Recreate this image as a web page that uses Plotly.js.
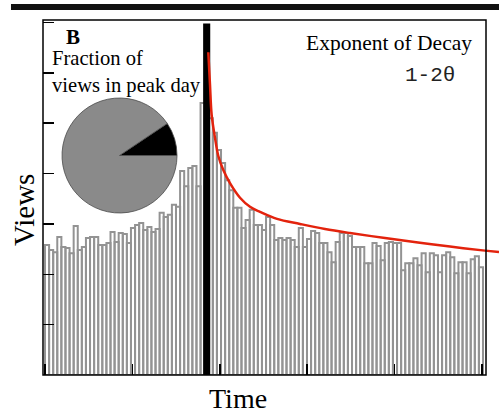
<!DOCTYPE html>
<html>
<head>
<meta charset="utf-8">
<script src="https://cdn.plot.ly/plotly-3.0.1.min.js"></script>
<style>
html,body{margin:0;padding:0;background:#fff;}
#chart{width:499px;height:413px;}
</style>
</head>
<body>
<div id="chart"></div>
<script>
// ---- data ----
const viewsBeforePeak = [2.58, 2.48, 2.44, 2.74, 2.54, 2.52, 2.42, 2.96, 2.48, 2.54,
  2.72, 2.74, 2.74, 2.58, 2.58, 2.62, 2.84, 2.64, 2.82, 2.80,
  2.62, 2.92, 2.98, 3.02, 2.88, 2.94, 2.84, 2.90, 3.22, 3.14,
  3.18, 3.38, 3.34, 4.05, 3.75, 4.11, 4.15, 3.75, 5.40];
const peakDayViews = 6.95;
const viewsAfterPeak = [5.10, 4.81, 4.47, 4.21, 3.87, 3.67, 3.32, 3.32, 2.92, 3.08,
  3.28, 2.98, 2.98, 2.88, 3.14, 2.98, 2.68, 2.72, 2.68, 2.72,
  2.68, 2.54, 2.92, 2.54, 2.70, 2.86, 2.82, 2.62, 2.62, 2.44,
  2.24, 2.64, 2.82, 2.82, 2.76, 2.54, 2.54, 2.54, 2.22, 2.22,
  2.62, 2.56, 2.28, 2.62, 2.64, 2.62, 2.62, 2.08, 2.22, 2.22,
  2.32, 2.18, 2.42, 2.04, 2.42, 2.38, 2.04, 2.38, 2.44, 2.34,
  2.02, 2.24, 2.24, 2.02, 2.30, 2.36, 2.14];
const decayTime = [39.39, 39.81, 40.22, 41.03, 41.84, 43.06, 44.69, 47.14, 49.58, 52.02,
  56.18, 61.79, 67.90, 74.01, 82.56, 90.62, 98.44, 106.99, 110.41];
const decayViews = [6.41, 5.76, 5.16, 4.71, 4.35, 4.07, 3.81, 3.52, 3.34, 3.24,
  3.10, 3.00, 2.90, 2.82, 2.72, 2.63, 2.55, 2.47, 2.44];
const pieLabels = ['peak day', 'other days'];
const pieFractions = [0.094, 0.906];

// ---- build traces ----
const peakIndex = viewsBeforePeak.length;
const allViews = viewsBeforePeak.concat([0], viewsAfterPeak);
const dayIndex = allViews.map((_, i) => i);
const otherX = dayIndex.filter(i => i !== peakIndex);
const otherY = otherX.map(i => allViews[i]);

const bars = {
  type: 'bar', x: otherX, y: otherY, width: 1,
  marker: {color: 'rgba(255,255,255,0)', line: {color: '#939393', width: 2}},
  hoverinfo: 'none', showlegend: false
};
const peakBar = {
  type: 'bar', x: [peakIndex], y: [peakDayViews], width: 1,
  marker: {color: '#000', line: {color: '#000', width: 3}},
  hoverinfo: 'none', showlegend: false
};
const decay = {
  type: 'scatter', mode: 'lines', x: decayTime, y: decayViews,
  line: {color: '#e3230d', width: 2.5, shape: 'spline', smoothing: 1},
  hoverinfo: 'none', showlegend: false, cliponaxis: false
};
// in plotly, the first slice (counterclockwise) spans clockwise from `rotation`
const pie = {
  type: 'pie', labels: pieLabels, values: pieFractions, sort: false,
  direction: 'counterclockwise', rotation: 90 - pieFractions[0] * 360,
  marker: {colors: ['#000000', '#8a8a8a'], line: {color: '#4a4a4a', width: 0.8}},
  textinfo: 'none', hoverinfo: 'none', showlegend: false,
  domain: {x: [0.0417, 0.2939], y: [0.4563, 0.7803]}
};

const serif = '"Liberation Serif", "Times New Roman", serif';
const layout = {
  width: 499, height: 413,
  margin: {l: 43, r: 0, t: 20, b: 38, pad: 0},
  paper_bgcolor: '#fff', plot_bgcolor: '#fff',
  barmode: 'overlay', bargap: 0, showlegend: false,
  xaxis: {range: [-0.989, 110.41], tick0: -0.5, dtick: 21.35, ticks: 'inside', ticklen: 11,
    tickwidth: 1.5, tickcolor: '#000', showticklabels: false, showgrid: false,
    zeroline: false, showline: false, fixedrange: true},
  yaxis: {range: [0, 7.05], tick0: 0, dtick: 1, ticks: 'inside', ticklen: 11,
    tickwidth: 1.5, tickcolor: '#000', showticklabels: false, showgrid: false,
    zeroline: false, showline: false, fixedrange: true},
  shapes: [
    {type: 'rect', xref: 'paper', yref: 'paper', x0: 0, x1: 0.9715, y0: 0, y1: 1,
      line: {color: '#000', width: 1.5}, fillcolor: 'rgba(0,0,0,0)', layer: 'above'},
    {type: 'rect', xref: 'paper', yref: 'paper', x0: -0.0702, x1: 1.0, y0: 1.0282, y1: 1.0451,
      line: {width: 0}, fillcolor: '#111', layer: 'above'}
  ],
  annotations: [
    {text: '<b>B</b>', xref: 'paper', yref: 'paper', x: 0.0460, y: 0.953, xanchor: 'left', yanchor: 'middle',
      showarrow: false, font: {family: serif, size: 21, color: '#000'}},
    {text: 'Fraction of<br>views in peak day', xref: 'paper', yref: 'paper', x: 0.0154, y: 0.930,
      xanchor: 'left', yanchor: 'top', align: 'left', showarrow: false,
      font: {family: serif, size: 20.6, color: '#000'}},
    {text: 'Exponent of Decay', xref: 'paper', yref: 'paper', x: 0.945, y: 0.935,
      xanchor: 'right', yanchor: 'middle', showarrow: false,
      font: {family: serif, size: 21.5, color: '#000'}},
    {text: '1-2θ', xref: 'paper', yref: 'paper', x: 0.8476, y: 0.845,
      xanchor: 'center', yanchor: 'middle', showarrow: false,
      font: {family: '"Liberation Mono", "Courier New", monospace', size: 21, color: '#222'}},
    {text: 'Views', xref: 'paper', yref: 'paper', x: -0.0417, y: 0.4648, textangle: -90,
      xanchor: 'center', yanchor: 'middle', showarrow: false,
      font: {family: serif, size: 29, color: '#000'}},
    {text: 'Time', xref: 'paper', yref: 'paper', x: 0.4276, y: -0.0648,
      xanchor: 'center', yanchor: 'middle', showarrow: false,
      font: {family: serif, size: 28, color: '#000'}}
  ]
};

Plotly.newPlot('chart', [bars, peakBar, decay, pie], layout, {staticPlot: true, displayModeBar: false});
</script>
</body>
</html>
